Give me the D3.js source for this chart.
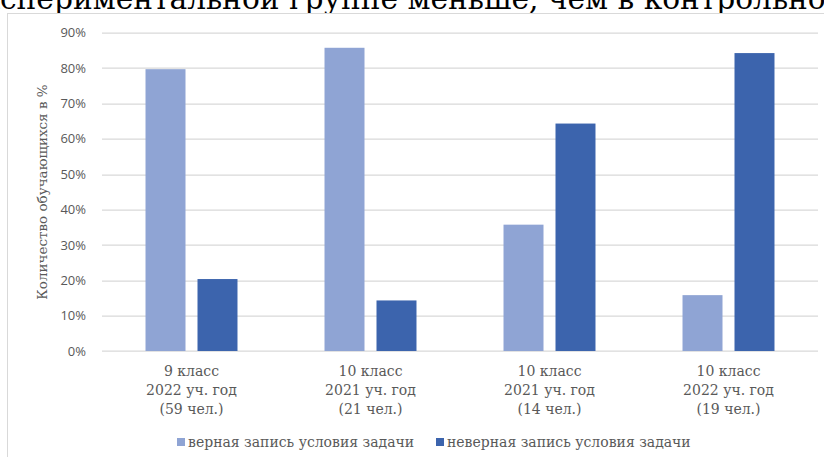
<!DOCTYPE html>
<html>
<head>
<meta charset="utf-8">
<script src="https://cdn.jsdelivr.net/npm/d3@7"></script>
<style>
  body { margin: 0; background: #fff; }
  svg { display: block; }
  .serif { font-family: 'DejaVu Serif', 'Liberation Serif', 'Times New Roman', serif; }
  .sans { font-family: 'Open Sans', 'Liberation Sans', sans-serif; }
</style>
</head>
<body>
<div id="vis"></div>
<script>
// Chart data
var groups = [
    ['9 класс', '2022 уч. год', '(59 чел.)'],
    ['10 класс', '2021 уч. год', '(21 чел.)'],
    ['10 класс', '2021 уч. год', '(14 чел.)'],
    ['10 класс', '2022 уч. год', '(19 чел.)']
];
var seriesNames = ['верная запись условия задачи', 'неверная запись условия задачи'];
var correct = [0.7966, 0.8571, 0.3571, 0.1579];
var incorrect = [0.2034, 0.1429, 0.6429, 0.8421];
var yTicks = [0, 0.1, 0.2, 0.3, 0.4, 0.5, 0.6, 0.7, 0.8, 0.9];
var colors = ['#8FA4D4', '#3C64AD'];
var yTitle = 'Количество обучающихся в %';
var headText = 'экспериментальной группе меньше, чем в контрольной';

var width = 824, height = 457;
var margin = { left: 102, right: 6, top: 32.6, bottom: 106 };
var drawWidth = width - margin.left - margin.right;
var drawHeight = height - margin.top - margin.bottom;

var svg = d3.select('#vis').append('svg')
    .attr('width', width)
    .attr('height', height);

// Page text cut off above the chart: fit "с...контрольно" to the page width
function textWidth(str, size) {
    var t = svg.append('text').attr('class', 'serif').attr('font-size', size).text(str);
    var w = t.node().getComputedTextLength();
    t.remove();
    return w;
}
var visiblePart = 'спериментальной группе меньше, чем в контрольно';
var headSize = 30 * 826 / textWidth(visiblePart, 30);
svg.append('text')
    .attr('class', 'serif')
    .attr('x', -textWidth('эк', headSize))
    .attr('y', 9)
    .attr('font-size', headSize)
    .attr('fill', '#000')
    .text(headText);

// Chart frame
svg.append('rect')
    .attr('x', 7.5).attr('y', 13.5)
    .attr('width', 840).attr('height', 460)
    .attr('fill', '#fff')
    .attr('stroke', '#d9d9d9')
    .attr('stroke-width', 1);

var g = svg.append('g')
    .attr('transform', 'translate(' + margin.left + ',' + margin.top + ')');

var x0 = d3.scaleBand()
    .domain(d3.range(groups.length))
    .range([0, drawWidth]);

var x1 = d3.scaleBand()
    .domain([0, 1])
    .range([0, x0.bandwidth()])
    .paddingInner(0.2308)
    .paddingOuter(0.837);

var yScale = d3.scaleLinear()
    .domain([0, 0.9])
    .range([drawHeight, 0]);

// Gridlines
g.selectAll('.grid')
    .data(yTicks)
    .enter().append('line')
    .attr('x1', 0)
    .attr('x2', drawWidth)
    .attr('y1', function(d) { return Math.round(yScale(d)) + 0.5; })
    .attr('y2', function(d) { return Math.round(yScale(d)) + 0.5; })
    .attr('stroke', '#d9d9d9')
    .attr('stroke-width', 1.3);

// Y axis labels
var yAxis = d3.axisLeft(yScale)
    .tickValues(yTicks)
    .tickFormat(d3.format('.0%'))
    .tickSize(0)
    .tickPadding(16);
var yAxisG = g.append('g').call(yAxis);
yAxisG.select('.domain').remove();
yAxisG.attr('font-family', null);
yAxisG.selectAll('text')
    .attr('class', 'sans')
    .attr('font-size', 13)
    .attr('fill', '#595959');

// Bars
var data = groups.map(function(gr, i) {
    return [correct[i], incorrect[i]];
});
var groupG = g.selectAll('.group')
    .data(data)
    .enter().append('g')
    .attr('transform', function(d, i) { return 'translate(' + x0(i) + ',0)'; });
groupG.selectAll('rect')
    .data(function(d) { return d; })
    .enter().append('rect')
    .attr('x', function(d, i) { return x1(i); })
    .attr('width', x1.bandwidth())
    .attr('y', function(d) { return yScale(d); })
    .attr('height', function(d) { return drawHeight - yScale(d); })
    .attr('fill', function(d, i) { return colors[i]; });

// X axis labels
var xLab = g.selectAll('.xlab')
    .data(groups)
    .enter().append('text')
    .attr('class', 'serif')
    .attr('x', function(d, i) { return x0(i) + x0.bandwidth() / 2; })
    .attr('y', drawHeight + 25.5)
    .attr('text-anchor', 'middle')
    .attr('font-size', 14)
    .attr('fill', '#595959');
xLab.selectAll('tspan')
    .data(function(d) { return d; })
    .enter().append('tspan')
    .attr('x', function() { return d3.select(this.parentNode).attr('x'); })
    .attr('dy', function(d, i) { return i === 0 ? 0 : 19; })
    .text(function(d) { return d; });

// Y axis title
svg.append('text')
    .attr('class', 'serif')
    .attr('transform', 'translate(' + 47 + ',' + 192 + ') rotate(-90)')
    .attr('text-anchor', 'middle')
    .attr('font-size', 13.5)
    .attr('fill', '#595959')
    .text(yTitle);

// Legend
var legendX = [177, 436];
var legend = svg.selectAll('.legend')
    .data(seriesNames)
    .enter().append('g')
    .attr('transform', function(d, i) { return 'translate(' + legendX[i] + ',438)'; });
legend.append('rect')
    .attr('width', 8).attr('height', 8)
    .attr('fill', function(d, i) { return colors[i]; });
legend.append('text')
    .attr('class', 'serif')
    .attr('x', 11)
    .attr('y', 8.5)
    .attr('font-size', 14)
    .attr('fill', '#595959')
    .text(function(d) { return d; });
</script>
</body>
</html>
